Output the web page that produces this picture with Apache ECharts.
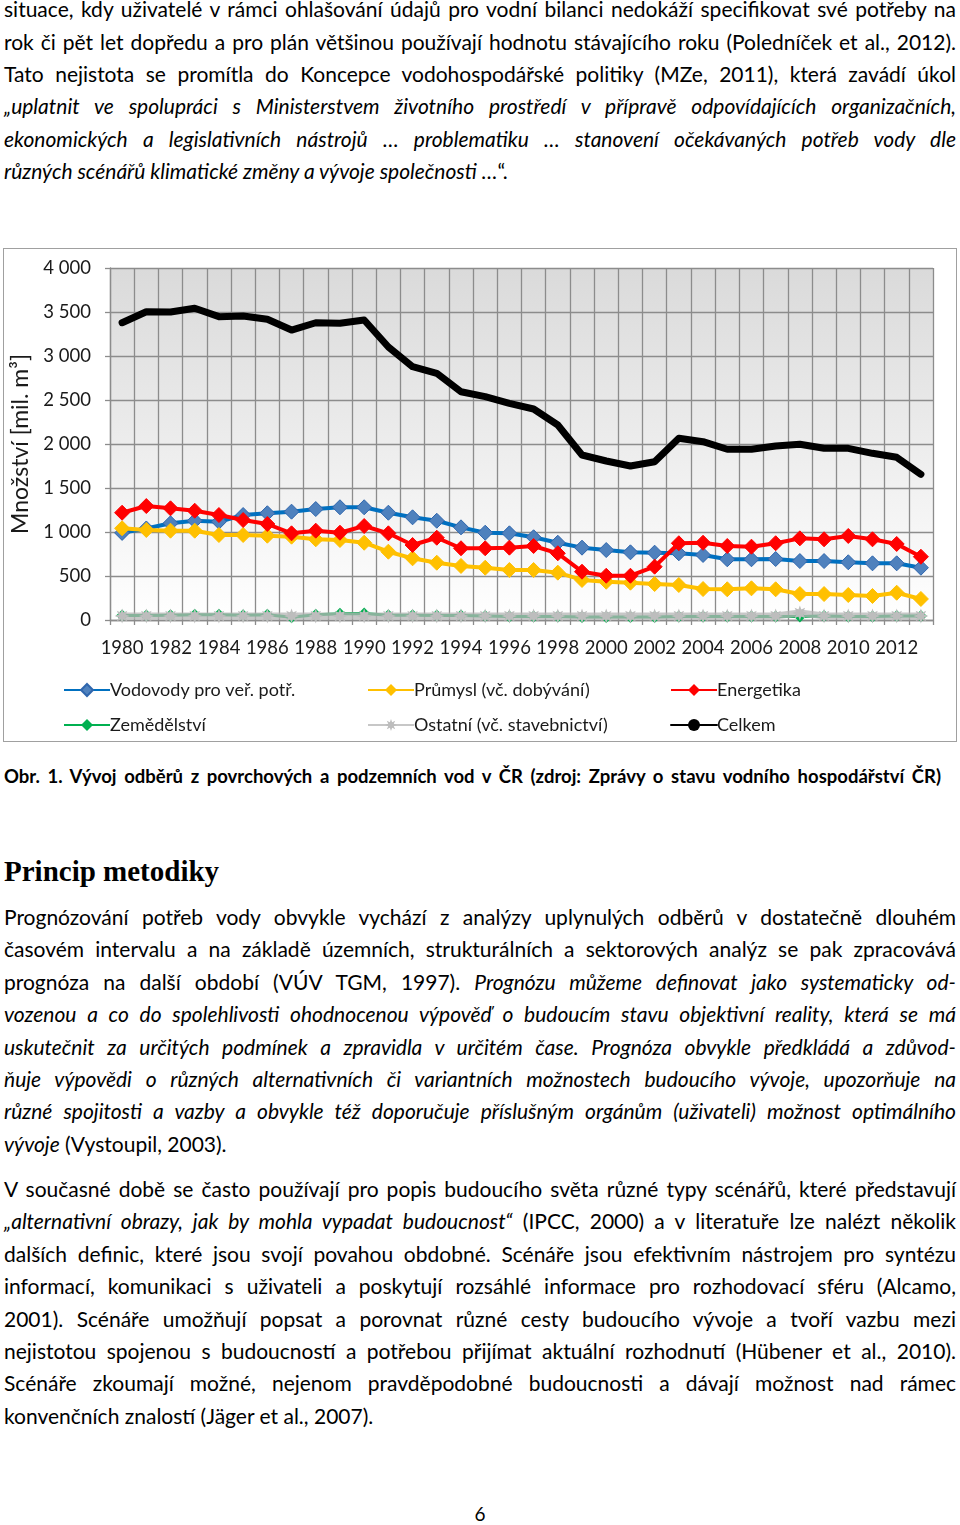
<!DOCTYPE html>
<html>
<head>
<meta charset="utf-8">
<script src="https://cdn.jsdelivr.net/npm/echarts@6/dist/echarts.min.js"></script>
<style>
html,body{margin:0;padding:0;background:#fff;}
body{width:960px;height:1525px;position:relative;overflow:hidden;font-family:Lato,"Noto Sans",sans-serif;color:#000;}
.l{position:absolute;left:4px;width:952px;height:32px;line-height:32px;font-size:21px;white-space:normal;}
.j{text-align:justify;text-align-last:justify;}
i{font-style:italic;}
#chartBox{position:absolute;left:3px;top:248px;width:954px;height:494px;box-sizing:border-box;border:1px solid #a0a0a0;}
#chart{width:952px;height:492px;}
.cap{position:absolute;left:4px;width:937px;font-weight:bold;font-size:18.5px;line-height:24px;text-align:justify;text-align-last:justify;}
.h{position:absolute;left:4px;font-family:"Liberation Serif",serif;font-weight:bold;font-size:29px;line-height:32px;}
.pn{position:absolute;left:0;width:960px;text-align:center;font-size:19px;line-height:32px;}
</style>
</head>
<body>
<div class="l j" style="top:-7px">situace, kdy uživatelé v rámci ohlašování údajů pro vodní bilanci nedokáží specifikovat své potřeby na</div>
<div class="l j" style="top:25.5px">rok či pět let dopředu a pro plán většinou používají hodnotu stávajícího roku (Poledníček et al., 2012).</div>
<div class="l j" style="top:57.8px">Tato nejistota se promítla do Koncepce vodohospodářské politiky (MZe, 2011), která zavádí úkol</div>
<div class="l j" style="top:90.2px"><i>„uplatnit ve spolupráci s Ministerstvem životního prostředí v přípravě odpovídajících organizačních,</i></div>
<div class="l j" style="top:122.6px"><i>ekonomických a legislativních nástrojů … problematiku … stanovení očekávaných potřeb vody dle</i></div>
<div class="l" style="top:155px"><i>různých scénářů klimatické změny a vývoje společnosti …</i>“.</div>

<div id="chartBox"><div id="chart"></div></div>

<div class="cap" style="top:764px">Obr. 1. Vývoj odběrů z povrchových a podzemních vod v ČR (zdroj: Zprávy o stavu vodního hospodářství ČR)</div>

<div class="h" style="top:855px">Princip metodiky</div>

<div class="l j" style="top:901px">Prognózování potřeb vody obvykle vychází z analýzy uplynulých odběrů v dostatečně dlouhém</div>
<div class="l j" style="top:933.4px">časovém intervalu a na základě územních, strukturálních a sektorových analýz se pak zpracovává</div>
<div class="l j" style="top:965.8px">prognóza na další období (VÚV TGM, 1997). <i>Prognózu můžeme definovat jako systematicky od-</i></div>
<div class="l j" style="top:998.2px"><i>vozenou a co do spolehlivosti ohodnocenou výpověď o budoucím stavu objektivní reality, která se má</i></div>
<div class="l j" style="top:1030.6px"><i>uskutečnit za určitých podmínek a zpravidla v určitém čase. Prognóza obvykle předkládá a zdůvod-</i></div>
<div class="l j" style="top:1063px"><i>ňuje výpovědi o různých alternativních či variantních možnostech budoucího vývoje, upozorňuje na</i></div>
<div class="l j" style="top:1095.4px"><i>různé spojitosti a vazby a obvykle též doporučuje příslušným orgánům (uživateli) možnost optimálního</i></div>
<div class="l" style="top:1127.8px"><i>vývoje</i> (Vystoupil, 2003).</div>

<div class="l j" style="top:1173px">V současné době se často používají pro popis budoucího světa různé typy scénářů, které představují</div>
<div class="l j" style="top:1205.4px"><i>„alternativní obrazy, jak by mohla vypadat budoucnost“</i> (IPCC, 2000) a v literatuře lze nalézt několik</div>
<div class="l j" style="top:1237.8px">dalších definic, které jsou svojí povahou obdobné. Scénáře jsou efektivním nástrojem pro syntézu</div>
<div class="l j" style="top:1270.2px">informací, komunikaci s uživateli a poskytují rozsáhlé informace pro rozhodovací sféru (Alcamo,</div>
<div class="l j" style="top:1302.6px">2001). Scénáře umožňují popsat a porovnat různé cesty budoucího vývoje a tvoří vazbu mezi</div>
<div class="l j" style="top:1335px">nejistotou spojenou s budoucností a potřebou přijímat aktuální rozhodnutí (Hübener et al., 2010).</div>
<div class="l j" style="top:1367.4px">Scénáře zkoumají možné, nejenom pravděpodobné budoucnosti a dávají možnost nad rámec</div>
<div class="l" style="top:1399.8px">konvenčních znalostí (Jäger et al., 2007).</div>

<div class="pn" style="top:1498px">6</div>

<script>
// ---- data ----
const years = ['1980','1981','1982','1983','1984','1985','1986','1987','1988','1989','1990','1991','1992','1993','1994','1995','1996','1997','1998','1999','2000','2001','2002','2003','2004','2005','2006','2007','2008','2009','2010','2011','2012','2013'];
const vodovody = [990,1040,1099,1128,1117,1193,1213,1231,1261,1281,1281,1219,1167,1128,1053,992,985,940,878,822,795,769,765,758,739,690,690,693,670,670,656,644,644,594];
const prumysl = [1042,1023,1015,1015,966,966,958,947,917,909,878,776,701,651,614,594,568,568,538,455,435,424,409,398,352,349,360,349,295,295,284,273,310,239];
const energetika = [1219,1295,1269,1242,1193,1136,1091,985,1015,992,1068,985,852,935,815,815,822,841,758,549,503,503,606,872,878,841,833,872,928,917,955,917,864,719];
const zemedelstvi = [50,50,55,60,60,55,60,30,60,70,75,55,55,50,50,45,40,40,40,35,35,35,35,40,40,40,40,40,40,45,40,40,45,45];
const ostatni = [45,45,45,45,45,45,45,45,45,45,45,45,45,45,45,45,45,45,45,45,45,45,45,45,45,45,45,45,80,45,45,45,45,45];
const celkem = [3378,3503,3500,3542,3447,3455,3417,3295,3378,3372,3409,3102,2878,2803,2594,2538,2462,2398,2216,1875,1807,1750,1799,2065,2026,1940,1940,1977,1997,1951,1951,1894,1849,1656];
const yTicks = {min:0, max:4000, step:500};
const names = ['Vodovody pro veř. potř.','Průmysl (vč. dobývání)','Energetika','Zemědělství','Ostatní (vč. stavebnictví)','Celkem'];

const star = 'path://M20 10L14.62 11.91L17.07 17.07L11.91 14.62L10 20L8.09 14.62L2.93 17.07L5.38 11.91L0 10L5.38 8.09L2.93 2.93L8.09 5.38L10 0L11.91 5.38L17.07 2.93L14.62 8.09Z';
const FONT = 'Lato';
const chart = echarts.init(document.getElementById('chart'), null, {renderer:'canvas'});

function legendAt(name, left, top){
  return {data:[name], left:left, top:top, itemWidth:46, itemHeight:15, itemGap:0,
    textStyle:{fontFamily:FONT, fontSize:18, color:'#1a1a1a', padding:[0,0,0,-5]},
    selectedMode:false};
}

chart.setOption({
  animation:false,
  textStyle:{fontFamily:FONT},
  grid:{left:106, top:19, width:823, height:352, show:true, borderWidth:0,
    containLabel:false, outerBoundsMode:'none',
    backgroundColor:{type:'linear',x:0,y:0,x2:0,y2:1,colorStops:[{offset:0,color:'#dadada'},{offset:1,color:'#ffffff'}]}},
  legend:[
    legendAt(names[0],54,427), legendAt(names[1],358,427), legendAt(names[2],661,427),
    legendAt(names[3],54,462), legendAt(names[4],358,462), legendAt(names[5],661,462)
  ],
  xAxis:{type:'category', data:years, boundaryGap:true,
    axisLine:{lineStyle:{color:'#8c8c8c', width:1.3}},
    axisTick:{show:true, interval:0, length:5, lineStyle:{color:'#8c8c8c', width:1.3}},
    axisLabel:{interval:1, margin:19, fontSize:18.5, color:'#1a1a1a', fontFamily:FONT},
    splitLine:{show:true, interval:0, lineStyle:{color:'#8c8c8c', width:1.3}}
  },
  yAxis:{type:'value', min:yTicks.min, max:yTicks.max, interval:yTicks.step,
    name:'Množství [mil. m³]', nameLocation:'middle', nameGap:76, nameRotate:90,
    nameTextStyle:{fontSize:23, color:'#1a1a1a', fontFamily:FONT},
    axisLine:{show:true, lineStyle:{color:'#8c8c8c', width:1.3}},
    axisTick:{show:true, length:5, lineStyle:{color:'#8c8c8c', width:1.3}},
    axisLabel:{margin:19, fontSize:18.5, color:'#1a1a1a', fontFamily:FONT,
      formatter:function(v){return v>=1000 ? Math.floor(v/1000)+' '+String(v%1000).padStart(3,'0') : String(v);}},
    splitLine:{show:true, lineStyle:{color:'#8c8c8c', width:1.3}}
  },
  series:[
    {name:names[0], type:'line', data:vodovody, symbol:'diamond', symbolSize:15,
      lineStyle:{color:'#0070c0', width:4}, itemStyle:{color:'#4f81bd', borderColor:'#2f66ad', borderWidth:1}, z:2},
    {name:names[1], type:'line', data:prumysl, symbol:'diamond', symbolSize:15,
      lineStyle:{color:'#ffc000', width:4}, itemStyle:{color:'#ffc000', borderColor:'#ffc000'}, z:3},
    {name:names[2], type:'line', data:energetika, symbol:'diamond', symbolSize:15,
      lineStyle:{color:'#ff0000', width:4}, itemStyle:{color:'#ff0000', borderColor:'#ff0000'}, z:4},
    {name:names[3], type:'line', data:zemedelstvi, symbol:'diamond', symbolSize:12,
      lineStyle:{color:'#00b050', width:3}, itemStyle:{color:'#00b050'}, z:5},
    {name:names[4], type:'line', data:ostatni, symbol:star, symbolSize:15,
      lineStyle:{color:'rgba(180,180,180,0.75)', width:7}, itemStyle:{color:'#bdbdbd'}, z:6},
    {name:names[5], type:'line', data:celkem, symbol:'none',
      lineStyle:{color:'#000000', width:7, cap:'round', join:'round'}, itemStyle:{color:'#000'}, z:7}
  ]
});
</script>
</body>
</html>
